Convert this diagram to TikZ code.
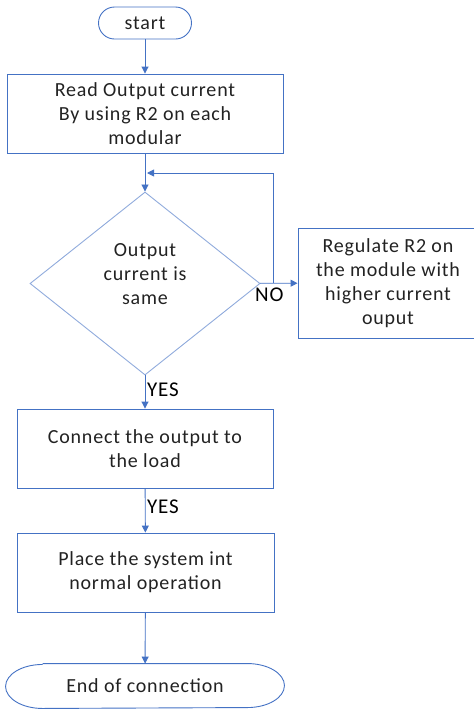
\documentclass[tikz,border=0pt]{standalone}
\usepackage{fontspec}
\setmainfont{Carlito}[LetterSpace=4]
\usetikzlibrary{arrows.meta,shapes,positioning}
\definecolor{flowblue}{HTML}{4472C4}
\definecolor{paleblue}{HTML}{8FAADC}
\definecolor{flowtext}{HTML}{222222}

\tikzset{
  box/.style={draw=flowblue, line width=0.9pt, text=flowtext, align=center,
    font=\fontsize{20}{24}\selectfont, inner sep=0pt},
  decision/.style={box, diamond, draw=paleblue},
  flow/.style={draw=flowblue, line width=0.9pt, -{Triangle[length=7pt,width=7pt]}},
  answer/.style={text=black, font=\fontsize{21}{24}\selectfont, inner sep=0pt, anchor=west}
}

\begin{document}
\begin{tikzpicture}[x=1pt,y=-1pt]
  \useasboundingbox (0,0) rectangle (474,710); %Page size

  \node[box, rounded corners=16pt, minimum width=93pt, minimum height=32pt] (start) at (145,23) {start};
  \node[box, minimum width=276pt, minimum height=79pt] (read) at (145,113.5) {Read Output current\\By using R2 on each\\modular};
  \node[decision, minimum width=230pt, minimum height=183pt,
    label={[box, draw=none, yshift=9pt]center:Output\\current is\\same}] (same) at (145,283.5) {};
  \node[box, minimum width=180pt, minimum height=110pt] (regulate) at (388,283) {Regulate R2 on\\the module with\\higher current\\ouput};
  \node[box, minimum width=256pt, minimum height=79pt] (load) at (145,448.5) {Connect the output to\\the load};
  \node[box, minimum width=257pt, minimum height=79pt] (normal) at (145.5,572.5) {Place the system int\\normal operation};
  \node[box, draw=none, minimum width=278pt, minimum height=44pt] (finish) at (145,686) {End of connection};

  % terminator with elliptic ends
  \draw[flowblue, line width=0.9pt] ([xshift=37pt]finish.north west) -- ([xshift=-37pt]finish.north east)
    arc[start angle=90, end angle=-90, x radius=37pt, y radius=22pt]
    -- ([xshift=37pt]finish.south west)
    arc[start angle=270, end angle=90, x radius=37pt, y radius=22pt];

  \coordinate (loopbot) at (273,283); %Loop back from NO branch
  \coordinate (looptop) at (273,173);

  \draw[flow] (start) -- (read);
  \draw[flow] (read) -- (same);
  \draw[flow] (same) -- (regulate);
  \draw[flow] (loopbot) -- (looptop) -- ([xshift=2pt]looptop -| read.south);
  \draw[flow] (same) -- (load);
  \draw[flow] (load) -- (normal);
  \draw[flow] (normal) -- (finish);

  \node[answer] (no) at (255,295) {NO};     %Label NO branch
  \node[answer] (yes) at (147,390) {YES};   %Label YES branch
  \node[answer] (yes2) at (147,507) {YES};  %Label second YES
\end{tikzpicture}
\end{document}
